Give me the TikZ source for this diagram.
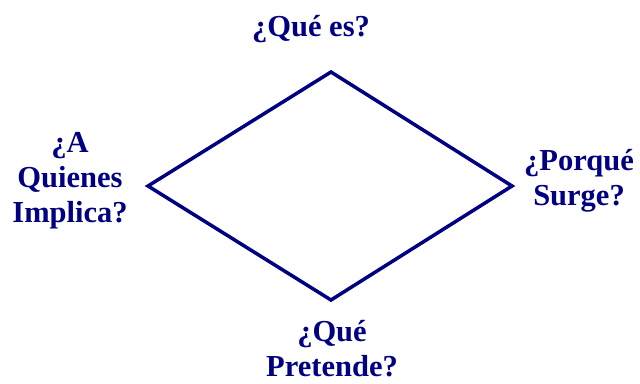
\documentclass[tikz,border=0pt]{standalone}
\usepackage{fontspec}
\setmainfont{Liberation Serif}
\definecolor{navy}{RGB}{0,0,128}
\begin{document}
\begin{tikzpicture}[x=1pt,y=-1pt,
  lbl/.style={text=navy,font=\fontsize{30.5}{35}\selectfont\bfseries,align=center,inner sep=0pt,anchor=base},
  edge/.style={draw=navy,line width=3.5pt,line join=miter}]
\useasboundingbox (0,0) rectangle (640,383);
\coordinate (t) at (331,72);
\coordinate (r) at (512,186);
\coordinate (b) at (331,300);
\coordinate (l) at (148,186);
\draw[edge] (t) -- (r) -- (b) -- (l) -- cycle;
\node[lbl] (qe) at (311,36) {¿Qué es?};
\node[lbl] (qi) at (70,222) {¿A\\Quienes\\Implica?};
\node[lbl] (ps) at (579,205) {¿Porqué\\Surge?};
\node[lbl] (pr) at (332,376) {¿Qué\\Pretende?};
\end{tikzpicture}
\end{document}
